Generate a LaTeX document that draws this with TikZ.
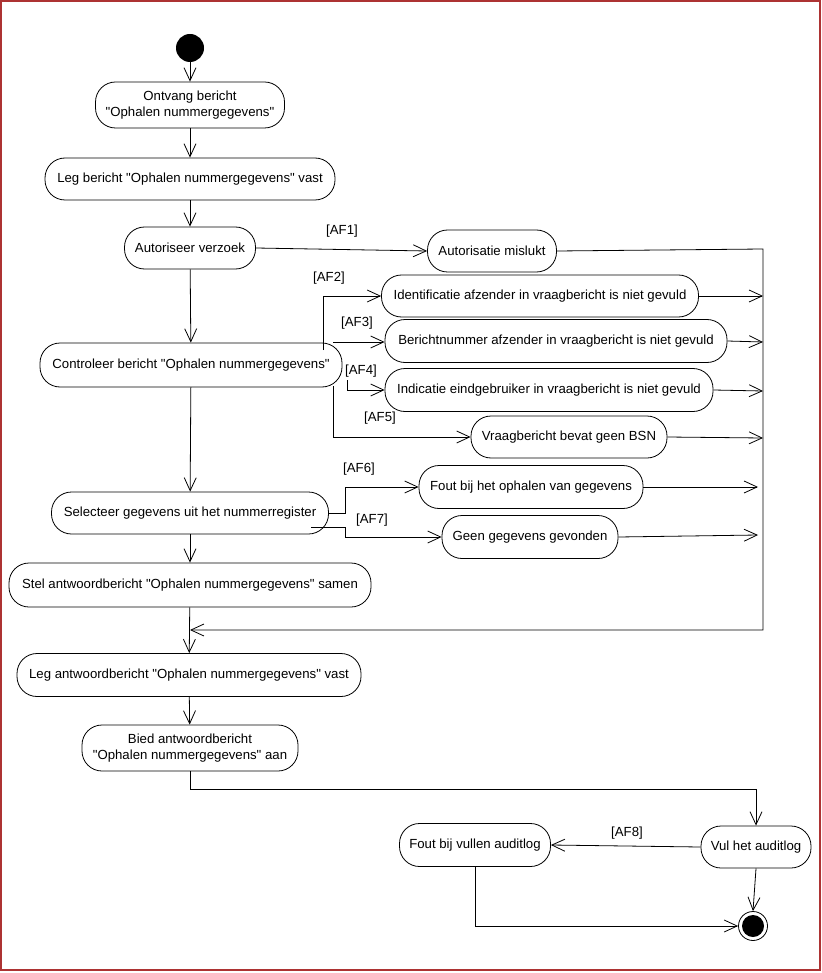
\documentclass[tikz,border=0pt]{standalone}
\usepackage{fontspec}
\newfontfamily\lib{Liberation Sans}
\usetikzlibrary{arrows.meta}
\newcommand\dq{\symbol{34}}
\begin{document}
\begin{tikzpicture}[x=1pt,y=-1pt,
  act/.style={draw, line width=0.8pt, rounded corners=20pt, inner sep=0pt, align=center,
    font=\lib\fontsize{13.2}{16}\selectfont},
  lbl/.style={font=\lib\fontsize{13.2}{16}\selectfont, inner sep=0pt},
  arr/.style={draw, line width=0.8pt, -{Straight Barb[length=13pt,width=12pt,line width=0.8pt]}},
  ln/.style={draw, line width=0.8pt}]
\useasboundingbox (0,0) rectangle (821,973);
\draw[red!60!black!80, line width=1.2pt] (1,1) rectangle (820,970);
% start
\node[circle, fill=black, minimum size=28pt, inner sep=0pt] (start) at (190,48) {};
% main column
\node[act, minimum width=189pt, minimum height=46pt] (n1) at (190,105) {Ontvang bericht\\\dq Ophalen nummergegevens\dq};
\node[act, minimum width=290pt, minimum height=42pt] (n2) at (190,179) {Leg bericht \dq Ophalen nummergegevens\dq{} vast};
\node[act, minimum width=131pt, minimum height=42pt] (n3) at (190,248) {Autoriseer verzoek};
\node[act, minimum width=302pt, minimum height=44pt] (n4) at (191,365) {Controleer bericht \dq Ophalen nummergegevens\dq};
\node[act, minimum width=277pt, minimum height=42pt] (n5) at (190,513) {Selecteer gegevens uit het nummerregister};
\node[act, minimum width=362pt, minimum height=44pt] (n6) at (190,585) {Stel antwoordbericht \dq Ophalen nummergegevens\dq{} samen};
\node[act, minimum width=344pt, minimum height=43pt] (n7) at (189,675) {Leg antwoordbericht \dq Ophalen nummergegevens\dq{} vast};
\node[act, minimum width=216pt, minimum height=46pt] (n8) at (190,748) {Bied antwoordbericht\\\dq Ophalen nummergegevens\dq{} aan};
% side nodes
\node[act, minimum width=129pt, minimum height=42pt] (a1) at (492,251) {Autorisatie mislukt};
\node[act, minimum width=317pt, minimum height=42pt] (i1) at (540,296) {Identificatie afzender in vraagbericht is niet gevuld};
\node[act, minimum width=342pt, minimum height=43pt] (i2) at (556,341) {Berichtnummer afzender in vraagbericht is niet gevuld};
\node[act, minimum width=328pt, minimum height=43pt] (i3) at (549,390) {Indicatie eindgebruiker in vraagbericht is niet gevuld};
\node[act, minimum width=196pt, minimum height=42pt] (i4) at (569,437) {Vraagbericht bevat geen BSN};
\node[act, minimum width=224pt, minimum height=43pt] (f1) at (531,487) {Fout bij het ophalen van gegevens};
\node[act, minimum width=176pt, minimum height=43pt] (f2) at (530,537) {Geen gegevens gevonden};
\node[act, minimum width=110pt, minimum height=42pt] (v1) at (756,847) {Vul het auditlog};
\node[act, minimum width=151pt, minimum height=43pt] (v2) at (475,845) {Fout bij vullen auditlog};
% end
\node[circle, draw, line width=0.8pt, minimum size=29pt, inner sep=0pt] (end) at (753,926) {};
\node[circle, fill=black, minimum size=22pt, inner sep=0pt] (endin) at (753,926) {};
% coordinates
\coordinate (m) at (190,630);
\coordinate (r0) at (763,249);
\coordinate (r1) at (763,296);
\coordinate (r2) at (763,342);
\coordinate (r3) at (763,391);
\coordinate (r4) at (763,438);
\coordinate (r5) at (758,487);
\coordinate (r6) at (758,535);
\coordinate (b2) at (323,350);
\coordinate (b3) at (333,342);
\coordinate (b4) at (347,380);
\coordinate (b5) at (333,386);
\coordinate (s6) at (329,513);
\coordinate (s7) at (311,527);
\coordinate (d1) at (190,789);
% main flow
\draw[arr] (start) -- (n1);
\draw[arr] (n1) -- (n2);
\draw[arr] (n2) -- (n3);
\draw[arr] (n3) -- (n4);
\draw[arr] (n4) -- (n5);
\draw[arr] (n5) -- (n6);
\draw[arr] (n6) -- (n7);
\draw[arr] (n7) -- (n8);
% AF1
\draw[arr] (n3.east) -- (a1.west);
\node[lbl] (l1) at (342,231) {[AF1]};
\draw[arr] (a1.east) -- (r0) -- (763,630) -- (m);
% AF2-AF5
\draw[arr] (b2) |- (i1.west);
\draw[arr] (b3) -- (b3 -| i2.west);
\draw[arr] (b4) |- (i3.west);
\draw[arr] (b5) |- (i4.west);
\node[lbl] (l2) at (329,278) {[AF2]};
\node[lbl] (l3) at (357,323) {[AF3]};
\node[lbl] (l4) at (361,371) {[AF4]};
\node[lbl] (l5) at (380,418) {[AF5]};
\draw[arr] (i1.east) -- (r1);
\draw[arr] (i2.east) -- (r2);
\draw[arr] (i3.east) -- (r3);
\draw[arr] (i4.east) -- (r4);
% AF6-AF7
\draw[arr] (s6) -- (345,513) |- (f1.west);
\draw[arr] (s7) -- (345,527) |- (f2.west);
\node[lbl] (l6) at (359,469) {[AF6]};
\node[lbl] (l7) at (372,520) {[AF7]};
\draw[arr] (f1.east) -- (r5);
\draw[arr] (f2.east) -- (r6);
% bottom
\draw[arr] (n8.south) -- (d1) -| (v1.north);
\draw[arr] (v1.west) -- (v2.east);
\node[lbl] (l8) at (627,833) {[AF8]};
\draw[arr] (v1.south) -- (end.north);
\draw[arr] (v2.south) |- (end.west);
\end{tikzpicture}
\end{document}
